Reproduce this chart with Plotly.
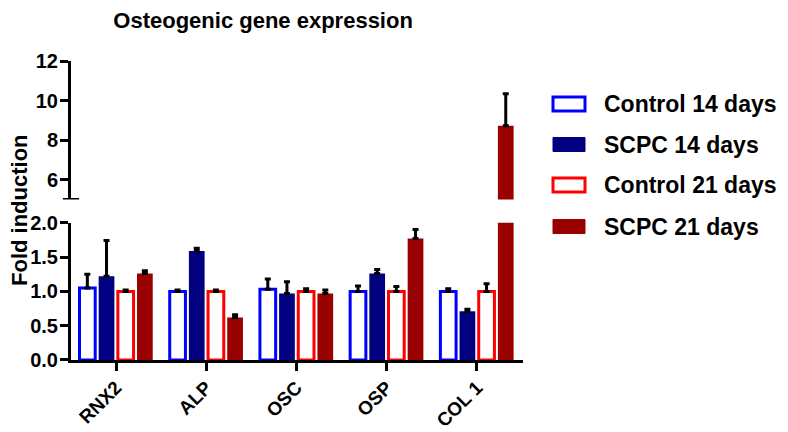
import plotly.graph_objects as go

genes = ["RNX2", "ALP", "OSC", "OSP", "COL 1"]
series_names = ["Control 14 days", "SCPC 14 days", "Control 21 days", "SCPC 21 days"]

ctrl14 = [1.05, 1.00, 1.03, 1.00, 1.00]
ctrl14_err = [0.20, 0.02, 0.15, 0.08, 0.04]
scpc14 = [1.22, 1.59, 0.97, 1.26, 0.71]
scpc14_err = [0.52, 0.04, 0.17, 0.06, 0.03]
ctrl21 = [1.00, 1.00, 1.00, 1.00, 1.00]
ctrl21_err = [0.02, 0.02, 0.04, 0.07, 0.11]
scpc21 = [1.26, 0.62, 0.97, 1.77, 8.72]
scpc21_err = [0.04, 0.04, 0.05, 0.13, 1.63]

lower_ticks = [0.0, 0.5, 1.0, 1.5, 2.0]
upper_ticks = [6, 8, 10, 12]

FONT = "Liberation Sans, Arial, sans-serif"
BLUE = "#0000FF"
NAVY = "#000080"
RED = "#FF0000"
DARKRED = "#990000"

styles = [
    dict(color="white", line=dict(color=BLUE, width=3)),
    dict(color=NAVY, line=dict(color=NAVY, width=0)),
    dict(color="white", line=dict(color=RED, width=3)),
    dict(color=DARKRED, line=dict(color=DARKRED, width=0)),
]
values = [ctrl14, scpc14, ctrl21, scpc21]
errors = [ctrl14_err, scpc14_err, ctrl21_err, scpc21_err]

fig = go.Figure()

# same bars on both halves of the broken axis
for xa, ya in [("x", "y"), ("x2", "y2")]:
    for name, vals, errs, st in zip(series_names, values, errors, styles):
        fig.add_trace(go.Bar(
            x=genes, y=vals, name=name, marker=st,
            xaxis=xa, yaxis=ya, showlegend=False,
            error_y=dict(type="data", array=errs, arrayminus=[0] * len(errs),
                         symmetric=False, color="black", thickness=3, width=3),
        ))

axis_font = dict(family=FONT, size=20, color="black", weight="bold")
common = dict(showline=True, linecolor="black", linewidth=3,
              ticks="outside", ticklen=8, tickwidth=3, tickcolor="black",
              tickfont=axis_font, showgrid=False, zeroline=False, automargin=False)

# page body adds an 8px offset, so the figure is 8px smaller than the window
fig.update_layout(
    width=780, height=424,
    paper_bgcolor="white", plot_bgcolor="white",
    margin=dict(l=63, r=265, t=53, b=72),
    barmode="group", bargap=0.15, bargroupgap=0.18,
    font=dict(family=FONT, color="black"),
    title=dict(text="<b>Osteogenic gene expression</b>", font=dict(family=FONT, size=22),
               xref="paper", x=0.425, xanchor="center", yref="container", y=0.99, yanchor="top",
               pad=dict(t=0)),
    xaxis=dict(domain=[0, 1], range=[-0.5, 4.51], anchor="y", tickangle=-45, **common),
    xaxis2=dict(domain=[0, 1], matches="x", anchor="y2", visible=False),
    yaxis=dict(domain=[0, 0.459], range=[0, 2.0], anchor="x",
               tickvals=lower_ticks, tickformat=".1f", ticklabelstandoff=-2, **common),
    yaxis2=dict(domain=[0.537, 1], range=[5, 12], anchor="x2",
                tickvals=upper_ticks, ticklabelstandoff=-2, **common),
)
fig.update_xaxes(tickfont_size=19, ticklabelstandoff=-2, selector=dict(anchor="y"))

# end cap of the upper axis segment
fig.add_shape(type="line", xref="paper", yref="y2", x0=-0.018, x1=0.018, y0=5, y1=5,
              line=dict(color="black", width=3))

# y axis title
fig.add_annotation(text="<b>Fold induction</b>", textangle=-90, xref="paper", yref="paper",
                   x=(19 - 71) / 452, y=(360 - 210) / 299, xanchor="center", yanchor="middle",
                   showarrow=False, font=dict(family=FONT, size=22, color="black"))

# legend drawn by hand so the swatches are wide rectangles
px = lambda v: (v - 71) / 452
py = lambda v: (360 - v) / 299
leg_y = [104, 144.5, 185, 226.5]
for name, st, yc in zip(series_names, styles, leg_y):
    lw = st["line"]["width"]
    fig.add_shape(type="rect", xref="paper", yref="paper",
                  x0=px(553), x1=px(585), y0=py(yc - 7), y1=py(yc + 7),
                  fillcolor=st["color"],
                  line=dict(color=st["line"]["color"], width=lw if lw else 1))
    fig.add_annotation(text=f"<b>{name}</b>", xref="paper", yref="paper",
                       x=px(602), y=py(yc), xanchor="left", yanchor="middle",
                       showarrow=False, font=dict(family=FONT, size=23, color="black"))

fig.write_html("out.html")
